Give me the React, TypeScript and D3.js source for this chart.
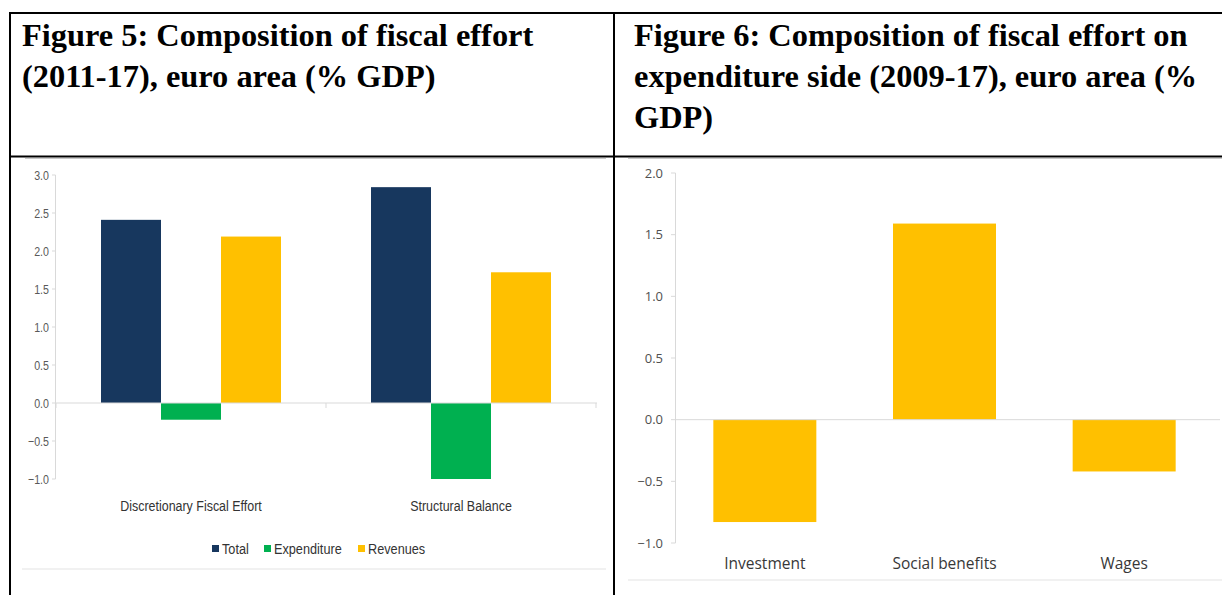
import React from 'react';
import * as d3 from 'd3';

// ---------- data ----------
const leftCategories = ['Discretionary Fiscal Effort', 'Structural Balance'];
const leftSeries = ['Total', 'Expenditure', 'Revenues'];
const leftColors = ['#17375E', '#00B050', '#FFC000'];
const totalValues = [2.41, 2.84];
const expenditureValues = [-0.22, -1.0];
const revenueValues = [2.19, 1.72];
const leftTicks = [-1.0, -0.5, 0.0, 0.5, 1.0, 1.5, 2.0, 2.5, 3.0];

const rightCategories = ['Investment', 'Social benefits', 'Wages'];
const rightValues = [-0.83, 1.59, -0.42];
const rightTicks = [-1.0, -0.5, 0.0, 0.5, 1.0, 1.5, 2.0];
const rightColor = '#FFC000';

const leftTitle = ['Figure 5: Composition of fiscal effort', '(2011-17), euro area (% GDP)'];
const rightTitle = ['Figure 6: Composition of fiscal effort on', 'expenditure side (2009-17), euro area (%', 'GDP)'];

const W = 1222;
const H = 595;

const sans = '"Liberation Sans", Arial, sans-serif';
const calibriLike = '"Open Sans", "Noto Sans", sans-serif';
const serif = '"Liberation Serif", "Times New Roman", serif';

function NarrowText(props: {
  x: number;
  y: number;
  size: number;
  anchor?: 'start' | 'middle' | 'end';
  fill?: string;
  children: React.ReactNode;
}) {
  const { x, y, size, anchor = 'start', fill = '#333333', children } = props;
  return (
    <text
      transform={`translate(${x},${y}) scale(0.82,1)`}
      dy="0.35em"
      textAnchor={anchor}
      fontFamily={sans}
      fontSize={size}
      fill={fill}
    >
      {children}
    </text>
  );
}

export default function App() {
  // ----- left chart scales -----
  const lx = d3.scaleBand<string>().domain(leftCategories).range([56, 596]).paddingInner(1 / 3).paddingOuter(1 / 6);
  const lxi = d3.scaleBand<string>().domain(leftSeries).range([0, lx.bandwidth()]);
  const ly = d3.scaleLinear().domain([-1, 3]).range([479, 175]);
  const leftValues = [totalValues, expenditureValues, revenueValues];

  // ----- right chart scales -----
  const rx = d3.scaleBand<string>().domain(rightCategories).range([675, 1214]).paddingInner(0.4267).paddingOuter(0.21335);
  const ry = d3.scaleLinear().domain([-1, 2]).range([543, 173]);

  const fmt = d3.format('.1f');

  const legendX = [212, 264, 358];

  return (
    <svg width={W} height={H} style={{ position: 'absolute', left: 0, top: 0, background: '#fff' }}>
      <rect x={0} y={0} width={W} height={H} fill="#fff" />

      {/* chart image frames (light gray lines) */}
      <line x1={25} x2={606} y1={158.5} y2={158.5} stroke="#c8c8c8" strokeWidth={1} />
      <line x1={628} x2={W} y1={158.5} y2={158.5} stroke="#c8c8c8" strokeWidth={1} />
      <line x1={22} x2={606} y1={569} y2={569} stroke="#ededed" strokeWidth={1.5} />
      <line x1={628} x2={W} y1={580} y2={580} stroke="#ededed" strokeWidth={1.5} />

      {/* table borders */}
      <line x1={10} x2={W} y1={13} y2={13} stroke="#000" strokeWidth={2} />
      <line x1={10} x2={W} y1={156.5} y2={156.5} stroke="#000" strokeWidth={2} />
      <line x1={10} x2={10} y1={12} y2={H} stroke="#000" strokeWidth={2} />
      <line x1={614} x2={614} y1={12} y2={H} stroke="#000" strokeWidth={2} />

      {/* titles */}
      <g fontFamily={serif} fontWeight="bold" fontSize={32.4} fill="#000">
        {leftTitle.map((t, i) => (
          <text key={t} x={22} y={46 + i * 41}>{t}</text>
        ))}
        {rightTitle.map((t, i) => (
          <text key={t} x={634} y={46 + i * 41}>{t}</text>
        ))}
      </g>

      {/* ---------- LEFT CHART ---------- */}
      <g>
        {/* y axis */}
        <line x1={55.5} x2={55.5} y1={ly(3)} y2={ly(-1)} stroke="#d9d9d9" />
        {leftTicks.map((t) => (
          <g key={t}>
            <line x1={52} x2={55.5} y1={ly(t)} y2={ly(t)} stroke="#d9d9d9" />
            <NarrowText x={49} y={ly(t)} size={13} anchor="end" fill="#595959">
              {fmt(t)}
            </NarrowText>
          </g>
        ))}
        {/* bars */}
        {leftCategories.map((c, ci) => (
          <g key={c}>
            {leftSeries.map((s, si) => {
              const v = leftValues[si][ci];
              const x = (lx(c) as number) + (lxi(s) as number);
              return (
                <rect
                  key={s}
                  x={x}
                  y={Math.min(ly(v), ly(0))}
                  width={lxi.bandwidth()}
                  height={Math.abs(ly(v) - ly(0))}
                  fill={leftColors[si]}
                />
              );
            })}
          </g>
        ))}
        {/* x axis */}
        <line x1={55.5} x2={597} y1={ly(0)} y2={ly(0)} stroke="#d9d9d9" />
        {[56, ...leftCategories.map((c) => (lx(c) as number) + lx.bandwidth() + lx.step() * (1 / 6))].map((x, i) => (
          <line key={i} x1={x} x2={x} y1={ly(0)} y2={ly(0) + 5} stroke="#d9d9d9" />
        ))}
        {leftCategories.map((c) => (
          <NarrowText key={c} x={(lx(c) as number) + lx.bandwidth() / 2} y={506} size={15.2} anchor="middle">
            {c}
          </NarrowText>
        ))}
        {/* legend */}
        {leftSeries.map((s, i) => (
          <g key={s}>
            <rect x={legendX[i]} y={545} width={7} height={7} fill={leftColors[i]} />
            <NarrowText x={legendX[i] + 10} y={548.5} size={15.5}>
              {s}
            </NarrowText>
          </g>
        ))}
      </g>

      {/* ---------- RIGHT CHART ---------- */}
      <g>
        <line x1={675.5} x2={675.5} y1={ry(2)} y2={ry(-1)} stroke="#d9d9d9" />
        {rightTicks.map((t) => (
          <g key={t}>
            <line x1={671} x2={675.5} y1={ry(t)} y2={ry(t)} stroke="#d9d9d9" />
            <text x={663} y={ry(t)} dy="0.35em" textAnchor="end" fontFamily={calibriLike} fontSize={13} fill="#505050">
              {fmt(t)}
            </text>
          </g>
        ))}
        {rightCategories.map((c, i) => {
          const v = rightValues[i];
          return (
            <rect
              key={c}
              x={rx(c) as number}
              y={Math.min(ry(v), ry(0))}
              width={rx.bandwidth()}
              height={Math.abs(ry(v) - ry(0))}
              fill={rightColor}
            />
          );
        })}
        <line x1={675.5} x2={1220} y1={ry(0)} y2={ry(0)} stroke="#d9d9d9" />
        {rightCategories.map((c) => (
          <text
            key={c}
            x={(rx(c) as number) + rx.bandwidth() / 2}
            y={564}
            dy="0.35em"
            textAnchor="middle"
            fontFamily={calibriLike}
            fontSize={15.5}
            fill="#383838"
          >
            {c}
          </text>
        ))}
      </g>
    </svg>
  );
}
